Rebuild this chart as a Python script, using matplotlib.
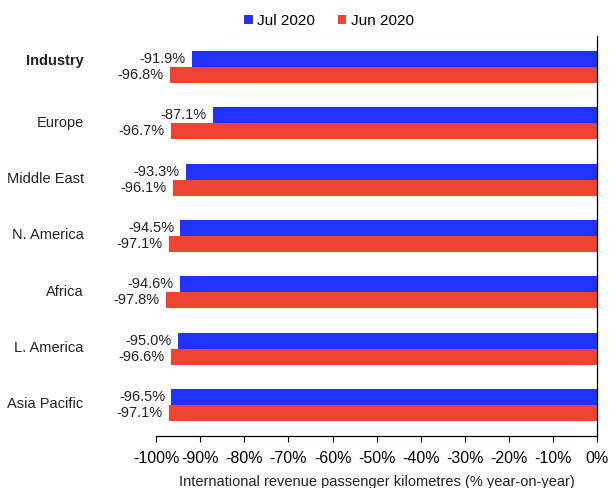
import matplotlib.pyplot as plt
import numpy as np

regions = ['Industry', 'Europe', 'Middle East', 'N. America', 'Africa',
           'L. America', 'Asia Pacific']
jul_2020 = [-91.9, -87.1, -93.3, -94.5, -94.6, -95.0, -96.5]
jun_2020 = [-96.8, -96.7, -96.1, -97.1, -97.8, -96.6, -97.1]
xticks = list(range(-100, 1, 10))

plt.rcParams['font.family'] = ['Liberation Sans', 'DejaVu Sans']

fig = plt.figure(figsize=(6.14, 4.88), dpi=100)
ax = fig.add_axes([0.254, 0.1066, 0.719, 0.8194])

y = np.arange(len(regions))
h = 0.285
blue = '#2233ff'
red = '#f04433'

b1 = ax.barh(y - h / 2, jul_2020, height=h, color=blue, label='Jul 2020')
b2 = ax.barh(y + h / 2, jun_2020, height=h, color=red, label='Jun 2020')

for yy, v in zip(y, jul_2020):
    ax.text(v - 1.4, yy - h / 2, '{:.1f}%'.format(v), ha='right', va='center',
            fontsize=10.5, color='#222222')
for yy, v in zip(y, jun_2020):
    ax.text(v - 1.4, yy + h / 2, '{:.1f}%'.format(v), ha='right', va='center',
            fontsize=10.5, color='#222222')

# label rows sit a touch above the middle of each pair; the bold one on the top bar
label_y = y - 0.04
label_y[0] = y[0] - h / 2

ax.set_xlim(-100, 0)
ax.set_ylim(len(regions) - 0.45, -0.55)
ax.set_xticks(xticks)
ax.set_xticklabels(['{}%'.format(t) for t in xticks], fontsize=11.5)
ax.set_yticks(label_y)
ax.set_yticklabels(regions, fontsize=10.5, color='#222222')
ax.get_yticklabels()[0].set_fontweight('bold')
ax.tick_params(axis='y', length=0, pad=52)
ax.tick_params(axis='x', length=4.5, width=0.8, pad=6)

ax.spines['top'].set_visible(False)
ax.spines['left'].set_visible(False)
ax.spines['right'].set_linewidth(0.9)
ax.spines['bottom'].set_linewidth(0.9)

ax.set_xlabel('International revenue passenger kilometres (% year-on-year)',
              fontsize=10.5, labelpad=7, color='#222222')

fig.legend(handles=[b1, b2], loc='center', bbox_to_anchor=(0.536, 0.957),
           ncol=2, frameon=False, fontsize=11, handlelength=0.55,
           handleheight=0.55, handletextpad=0.3, columnspacing=1.5)

fig.savefig('out.png', dpi=100)
